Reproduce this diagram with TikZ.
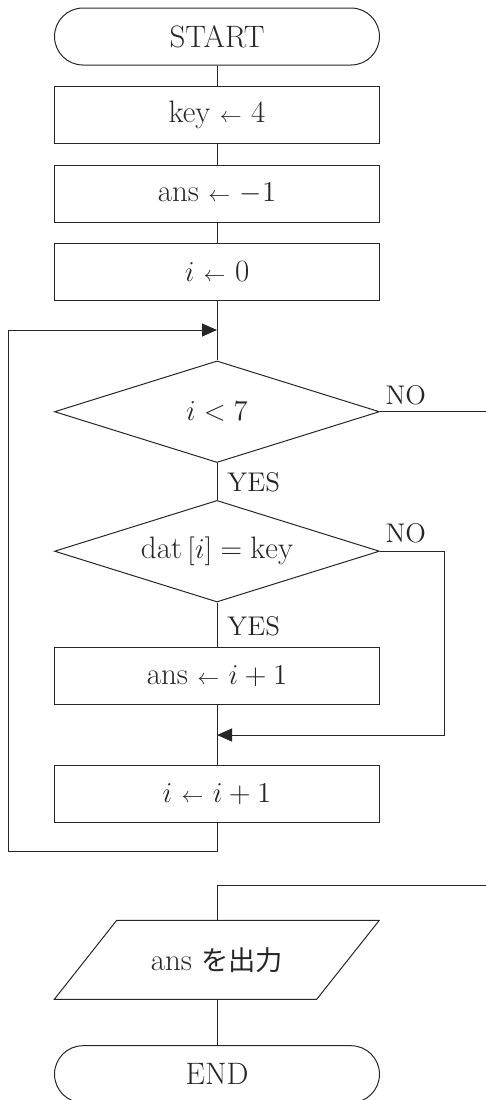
\documentclass[tikz,border=0pt]{standalone}
\usepackage{fontspec}
\newfontfamily\cjk[Scale=0.88]{Noto Sans CJK JP}
\usetikzlibrary{shapes.geometric,arrows.meta}
% small assignment arrow
\newcommand\asg{\ensuremath{\mathrel{\scriptstyle\leftarrow}}}
\begin{document}
\begin{tikzpicture}[x=0.5pt,y=-0.5pt,color=black!85,line width=0.5pt,
  txt/.style={font=\fontsize{15.5}{18}\selectfont},
  proc/.style={draw,rectangle,txt,minimum width=162.5pt,minimum height=28.5pt,inner sep=0pt},
  term/.style={proc,rounded corners=14.25pt},
  dec/.style={draw,diamond,txt,shape aspect=3.2,minimum width=162.5pt,minimum height=50.8pt,inner sep=0pt},
  lbl/.style={font=\fontsize{13.5}{16}\selectfont,inner sep=0pt,anchor=base west},
  arr/.style={-{Triangle[length=7.5pt,width=6.5pt]}}]
\useasboundingbox (0,0) rectangle (486,1100);

% main column
\node[term] (start) at (217,36.5) {START};
\node[proc] (key)   at (217,115.3) {key \asg{} 4};
\node[proc] (ans0)  at (217,193.5) {ans \asg{} $-1$};
\node[proc] (i0)    at (217,271.7) {$i$ \asg{} 0};
\coordinate (j1) at (217,330);
\node[dec]  (d1)    at (217,411.7) {$i<7$};
\node[dec]  (d2)    at (217,551.2) {dat\,$[i]=\mathrm{key}$};
\node[proc] (ans1)  at (217,675.9) {ans \asg{} $i+1$};
\coordinate (j2) at (217,735);
\node[proc] (inc)   at (217,793.7) {$i$ \asg{} $i+1$};

% output and end
\coordinate (exit1) at (486,411.7);
\coordinate (entry2) at (486,885);
\node[txt,inner sep=0pt] (out) at (217,959.8) {ans {\cjk を出力}};
\coordinate (outtop) at (217,920.3);
\coordinate (outbot) at (217,999.3);
\draw (116.7,920.3) -- (379.3,920.3) -- (316.7,999.3) -- (54.3,999.3) -- cycle;
\node[term] (end)   at (217,1074.2) {END};

% connectors
\draw (start) -- (key);
\draw (key) -- (ans0);
\draw (ans0) -- (i0);
\draw (i0) -- (d1);
\draw (d1) -- (d2);
\draw (d2) -- (ans1);
\draw (ans1) -- (inc);
\draw[arr] (inc.south) |- (8.5,851.7) |- (j1);
\draw[arr] (d2.east) -| (444.3,735) -- (j2);
\draw (d1.east) -- (exit1);
\draw (entry2) -| (outtop);
\draw (outbot) -- (end);

% branch labels
\node[lbl,xshift=2.5pt,yshift=3.85pt] at (d1.east) {NO};
\node[lbl,xshift=5pt,yshift=-14.35pt] at (d1.south) {YES};
\node[lbl,xshift=2.5pt,yshift=4.2pt] at (d2.east) {NO};
\node[lbl,xshift=5pt,yshift=-16.65pt] at (d2.south) {YES};
\end{tikzpicture}
\end{document}
